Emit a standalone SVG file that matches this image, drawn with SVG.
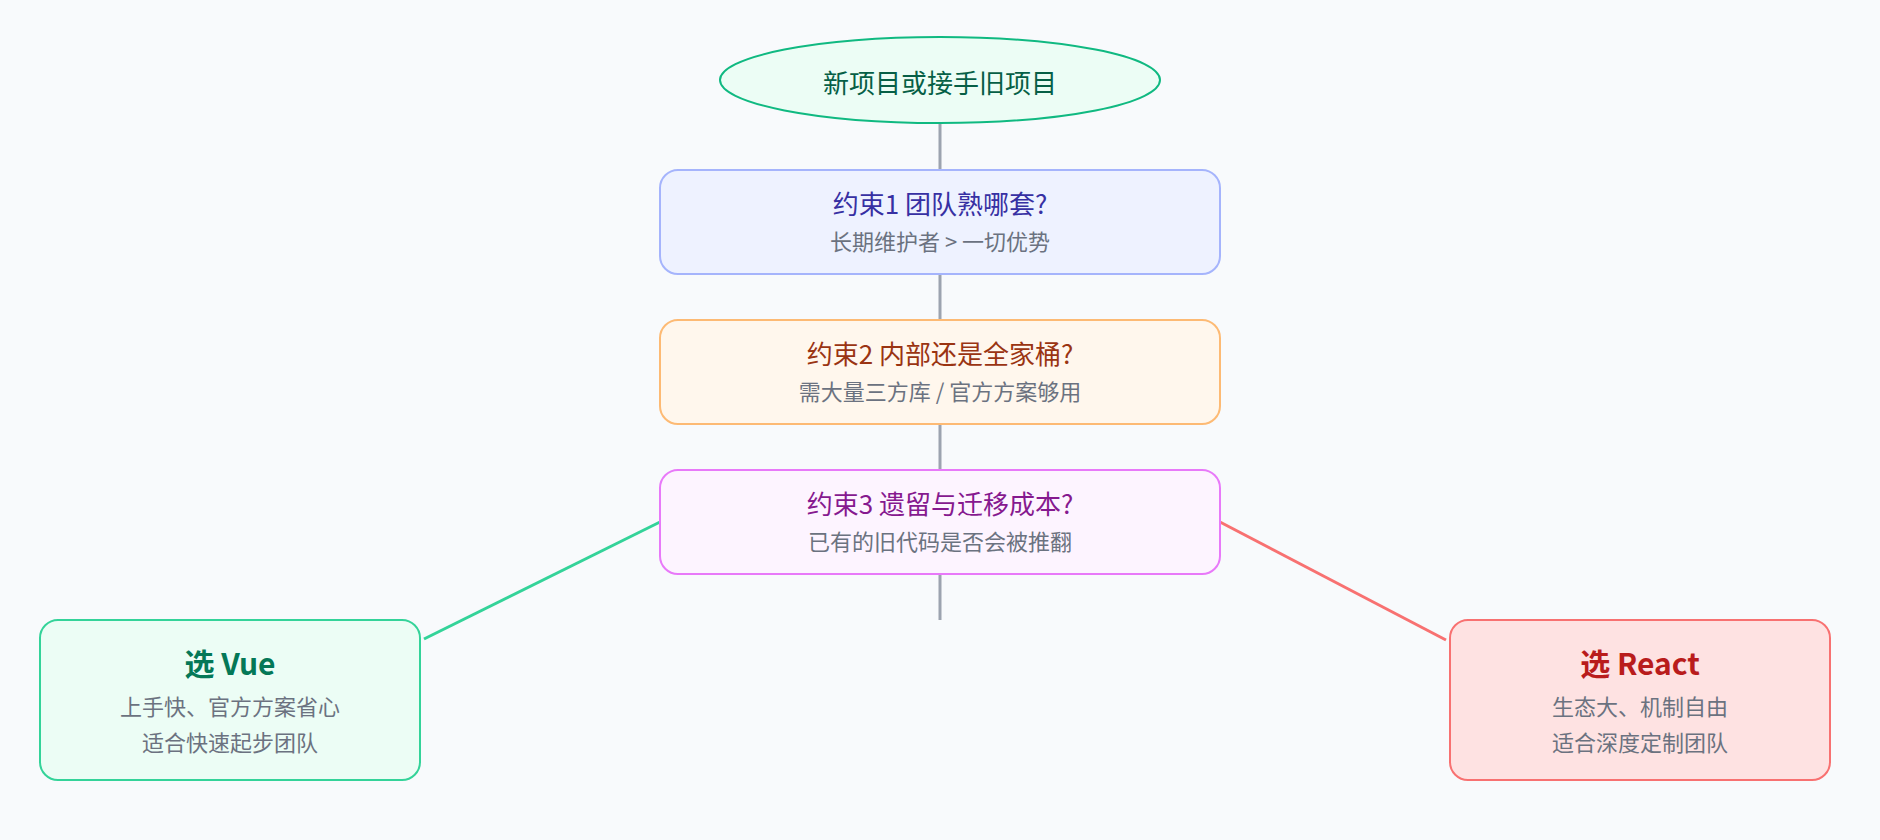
<svg xmlns="http://www.w3.org/2000/svg" width="1880" height="840" viewBox="0 0 1880 840">
<style>
text{font-family:"Noto Sans CJK SC","Microsoft YaHei",sans-serif;text-anchor:middle;dominant-baseline:central}
.t{font-size:26px}
.s{font-size:22px;fill:#6b7280}
.b{font-size:30px;font-weight:bold}
.box{stroke-width:2}
.c{fill:none;stroke-width:3}
</style>
<rect width="1880" height="840" fill="#f8fafc"/>
<g id="connectors">
<line class="c" x1="940" y1="123" x2="940" y2="170" stroke="#9ca3af"/>
<line class="c" x1="940" y1="274" x2="940" y2="320" stroke="#9ca3af"/>
<line class="c" x1="940" y1="424" x2="940" y2="470" stroke="#9ca3af"/>
<line class="c" x1="940" y1="574" x2="940" y2="620" stroke="#9ca3af"/>
<line class="c" x1="660" y1="522" x2="424" y2="639" stroke="#34d399"/>
<line class="c" x1="1220" y1="522" x2="1446" y2="640" stroke="#f87171"/>
</g>
<g id="start">
<ellipse class="box" cx="940" cy="80" rx="220" ry="43" fill="#ecfdf5" stroke="#10b981"/>
<text class="t" x="940" y="81" fill="#065f46">新项目或接手旧项目</text>
</g>
<g id="c1">
<rect class="box" x="660" y="170" width="560" height="104" rx="18" fill="#eef2ff" stroke="#a5b4fc"/>
<text class="t" x="940" y="202.5" fill="#3730a3">约束1 团队熟哪套?</text>
<text class="s" x="940" y="240">长期维护者 &gt; 一切优势</text>
</g>
<g id="c2">
<rect class="box" x="660" y="320" width="560" height="104" rx="18" fill="#fff7ed" stroke="#fdba74"/>
<text class="t" x="940" y="352.5" fill="#9a3412">约束2 内部还是全家桶?</text>
<text class="s" x="940" y="390">需大量三方库 / 官方方案够用</text>
</g>
<g id="c3">
<rect class="box" x="660" y="470" width="560" height="104" rx="18" fill="#fdf4ff" stroke="#e879f9"/>
<text class="t" x="940" y="502.5" fill="#86198f">约束3 遗留与迁移成本?</text>
<text class="s" x="940" y="540">已有的旧代码是否会被推翻</text>
</g>
<g id="vue">
<rect class="box" x="40" y="620" width="380" height="160" rx="18" fill="#ecfdf5" stroke="#34d399"/>
<text class="b" x="230" y="662" fill="#047857">选 Vue</text>
<text class="s" x="230" y="705">上手快、官方方案省心</text>
<text class="s" x="230" y="741">适合快速起步团队</text>
</g>
<g id="react">
<rect class="box" x="1450" y="620" width="380" height="160" rx="18" fill="#fee2e2" stroke="#f87171"/>
<text class="b" x="1640" y="662" fill="#b91c1c">选 React</text>
<text class="s" x="1640" y="705">生态大、机制自由</text>
<text class="s" x="1640" y="741">适合深度定制团队</text>
</g>
</svg>
